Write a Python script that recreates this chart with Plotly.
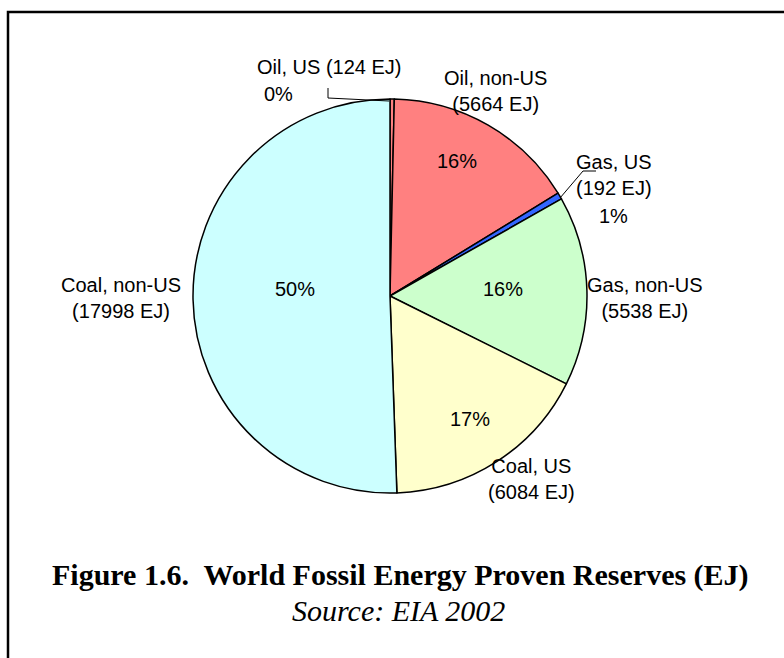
import plotly.graph_objects as go

W, H = 784, 658

categories = ["Oil, US", "Oil, non-US", "Gas, US", "Gas, non-US", "Coal, US", "Coal, non-US"]
values_ej = [124, 5664, 192, 5538, 6084, 17998]
pct_labels = ["0%", "16%", "1%", "16%", "17%", "50%"]
colors = ["#FF8080", "#FF8080", "#3366FF", "#CCFFCC", "#FFFFCC", "#CCFFFF"]

def px(x):
    return x / W

def py(y):
    return 1 - y / H

cx, cy, r = 390, 296, 197

fig = go.Figure(go.Pie(
    labels=categories,
    values=values_ej,
    sort=False,
    direction="clockwise",
    rotation=0,
    textinfo="none",
    hoverinfo="label+value+percent",
    marker=dict(colors=colors, line=dict(color="black", width=1.5)),
    domain=dict(x=[px(cx - r), px(cx + r)], y=[py(cy + r), py(cy - r)]),
    showlegend=False,
))

font = dict(family="Arial, Liberation Sans, sans-serif", size=20, color="black")

# category name / value labels (positions in pixels)
name_pos = {
    "Oil, US": (329, 67, "{n} ({v} EJ)"),
    "Oil, non-US": (495, 91, "{n}<br>({v} EJ)"),
    "Gas, US": (614, 175, "{n}<br>({v} EJ)"),
    "Gas, non-US": (645, 298, "{n}<br>({v} EJ)"),
    "Coal, US": (531, 479, "{n}<br>({v} EJ)"),
    "Coal, non-US": (121, 298, "{n}<br>({v} EJ)"),
}
pct_pos = [(278, 94), (457, 161), (613, 216), (503, 289), (470, 419), (295, 289)]

ann = []
for cat, val in zip(categories, values_ej):
    x, y, tpl = name_pos[cat]
    ann.append(dict(x=px(x), y=py(y), xref="paper", yref="paper", showarrow=False,
                    text=tpl.format(n=cat, v=val), font=font, align="center",
                    xanchor="center", yanchor="middle"))
for t, (x, y) in zip(pct_labels, pct_pos):
    ann.append(dict(x=px(x), y=py(y), xref="paper", yref="paper", showarrow=False,
                    text=t, font=font, xanchor="center", yanchor="middle"))

serif = "Times New Roman, Liberation Serif, serif"
ann.append(dict(x=px(400), y=py(575), xref="paper", yref="paper", showarrow=False,
                text="<b>Figure 1.6.&nbsp; World Fossil Energy Proven Reserves (EJ)</b>",
                font=dict(family=serif, size=30, color="black"),
                xanchor="center", yanchor="middle"))
ann.append(dict(x=px(398), y=py(610), xref="paper", yref="paper", showarrow=False,
                text="<i>Source: EIA 2002</i>",
                font=dict(family=serif, size=30, color="black"),
                xanchor="center", yanchor="middle"))

def path(points):
    return "M " + " L ".join(f"{px(x)},{py(y)}" for x, y in points)

shapes = [
    # frame
    dict(type="path", xref="paper", yref="paper",
         path=path([(8, 660), (8, 12), (786, 12)]),
         line=dict(color="black", width=2.5)),
    # leader lines
    dict(type="path", xref="paper", yref="paper",
         path=path([(389, 101), (328, 98), (328, 88)]),
         line=dict(color="black", width=1)),
    dict(type="path", xref="paper", yref="paper",
         path=path([(560, 198), (583, 171), (596, 171)]),
         line=dict(color="black", width=1)),
]

fig.update_layout(
    width=W, height=H,
    margin=dict(l=0, r=0, t=0, b=0),
    paper_bgcolor="white", plot_bgcolor="white",
    annotations=ann, shapes=shapes,
)

fig.write_html("out.html")
